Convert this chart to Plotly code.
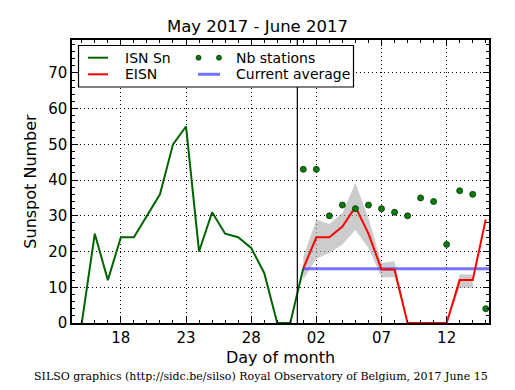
import plotly.graph_objects as go

# ---- data ----
isn_dates = ["2017-05-%02d" % d for d in range(15, 32)] + ["2017-06-01"]
isn_values = [0, 25, 12, 24, 24, 30, 36, 50, 55, 20, 31, 25, 24, 21, 14, 0, 0, 15.3]

eisn_dates = ["2017-06-%02d" % d for d in range(1, 16)]
eisn_values = [15.3, 24, 24, 27, 32.5, 25, 15, 15, 0, 0, 0, 0, 12, 12, 29]
eisn_upper = [18.5, 29, 27.7, 30.8, 39.2, 29.4, 16.8, 17.3, 0, 0, 0, 0, 13.6, 13.6, None]
eisn_lower = [12.2, 18, 19.6, 22, 26, 21, 12.8, 12.8, 0, 0, 0, 0, 9.9, 9.9, None]
nb_stations = [43, 43, 30, 33, 32, 33, 32, 31, 30, 35, 34, 22, 37, 36, 4]

current_average = 15.2
avg_span = ["2017-06-01", "2017-06-15 06:00"]
boundary_date = "2017-05-31 13:00"

x_tickvals = ["2017-05-18", "2017-05-23", "2017-05-28", "2017-06-02", "2017-06-07", "2017-06-12"]
x_ticktext = ["18", "23", "28", "02", "07", "12"]
y_tickvals = [0, 10, 20, 30, 40, 50, 60, 70]

x_range = ["2017-05-14 06:00", "2017-06-15 06:00"]
y_range = [0, 79.2]

FONT = "DejaVu Sans"
GREEN = "#006400"

fig = go.Figure()

# gray uncertainty band (only where defined)
bx = [d for d, u in zip(eisn_dates, eisn_upper) if u is not None]
bu = [u for u in eisn_upper if u is not None]
bl = [l for l in eisn_lower if l is not None]
fig.add_trace(go.Scatter(x=bx + bx[::-1], y=bu + bl[::-1], fill="toself",
                         fillcolor="rgba(170,170,170,0.6)", line=dict(width=0),
                         mode="lines", hoverinfo="skip", showlegend=False))

fig.add_trace(go.Scatter(x=isn_dates, y=isn_values, mode="lines",
                         line=dict(color=GREEN, width=2), showlegend=False))

fig.add_trace(go.Scatter(x=avg_span, y=[current_average, current_average], mode="lines",
                         line=dict(color="rgba(70,70,255,0.75)", width=3), showlegend=False))

fig.add_trace(go.Scatter(x=eisn_dates, y=eisn_values, mode="lines",
                         line=dict(color="red", width=2), showlegend=False))

fig.add_trace(go.Scatter(x=eisn_dates, y=nb_stations, mode="markers",
                         marker=dict(color="#0a7a0a", size=6, line=dict(color="#003300", width=0.8)),
                         showlegend=False, cliponaxis=False))

# boundary vertical line
fig.add_shape(type="line", xref="x", yref="paper", x0=boundary_date, x1=boundary_date,
              y0=0, y1=1, line=dict(color="black", width=1.2))

# ---- manual legend (paper px helpers) ----
L, R, T, B = 72, 26, 40, 67
W, H = 515, 390
pw, ph = W - L - R, H - T - B


def px(x):
    return (x - L) / pw


def py(y):
    return 1 - (y - T) / ph


fig.add_shape(type="rect", xref="paper", yref="paper", x0=px(78.5), x1=px(353.5),
              y0=py(87), y1=py(45.5), line=dict(color="black", width=1.2), fillcolor="white",
              layer="above")
r1, r2 = 57.7, 74.3
shapes_leg = [
    (88, 108, r1, GREEN, 2),
    (88, 108, r2, "red", 2),
    (198, 220, r2, "rgba(100,100,255,0.9)", 3),
]
for x0, x1, yy, col, wd in shapes_leg:
    fig.add_shape(type="line", xref="paper", yref="paper", x0=px(x0), x1=px(x1),
                  y0=py(yy), y1=py(yy), line=dict(color=col, width=wd), layer="above")
for cx in (198.5, 219):
    fig.add_shape(type="circle", xref="paper", yref="paper", x0=px(cx - 2.5), x1=px(cx + 2.5),
                  y0=py(r1 + 2.5), y1=py(r1 - 2.5), fillcolor="#0a7a0a",
                  line=dict(color="#003300", width=0.8), layer="above")
leg_text = [("ISN Sn", 123, r1), ("EISN", 123, r2), ("Nb stations", 234, r1), ("Current average", 234, r2)]
for txt, x0, yy in leg_text:
    fig.add_annotation(text=txt, xref="paper", yref="paper", x=px(x0), y=py(yy),
                       xanchor="left", yanchor="middle", showarrow=False,
                       font=dict(family=FONT, size=14, color="black"))

# footer
fig.add_annotation(text="SILSO graphics (http://sidc.be/silso) Royal Observatory of Belgium, 2017 June 15",
                   xref="paper", yref="paper", x=px(260.5), y=py(376), xanchor="center",
                   yanchor="middle", showarrow=False,
                   font=dict(family="DejaVu Serif", size=11, color="black"))

fig.update_layout(
    width=W, height=H,
    margin=dict(l=L, r=R, t=T, b=B),
    paper_bgcolor="white", plot_bgcolor="white",
    title=dict(text="May 2017 - June 2017", x=0.5, xanchor="center", y=1 - 26 / H, yanchor="middle",
               font=dict(family=FONT, size=16.5, color="black")),
    font=dict(family=FONT, color="black"),
    showlegend=False,
)

GRID_DASH = "1px,3px"
fig.update_xaxes(
    type="date", range=x_range, tickvals=x_tickvals, ticktext=x_ticktext,
    ticks="inside", ticklen=6, tickcolor="black", tickwidth=1,
    showline=True, linecolor="black", linewidth=1.5, mirror="ticks",
    showgrid=True, gridcolor="black", griddash=GRID_DASH, gridwidth=1,
    tickfont=dict(family=FONT, size=15), zeroline=False, automargin=False,
    minor=dict(dtick=86400000, tick0="2017-05-01", ticks="inside", ticklen=3,
               tickcolor="black", showgrid=False),
    title=dict(text="Day of month", font=dict(family=FONT, size=16), standoff=6),
)
fig.update_yaxes(
    range=y_range, tickvals=y_tickvals,
    ticks="inside", ticklen=6, tickcolor="black", tickwidth=1,
    showline=True, linecolor="black", linewidth=1.5, mirror="ticks",
    showgrid=True, gridcolor="black", griddash=GRID_DASH, gridwidth=1,
    tickfont=dict(family=FONT, size=15), zeroline=False, automargin=False,
    minor=dict(dtick=2, ticks="inside", ticklen=3, tickcolor="black", showgrid=False),
    title=dict(text="Sunspot Number", font=dict(family=FONT, size=16), standoff=8),
)

fig.write_html("out.html", config={"displayModeBar": False},
               post_script="document.body.style.margin='0';document.body.style.overflow='hidden';")
